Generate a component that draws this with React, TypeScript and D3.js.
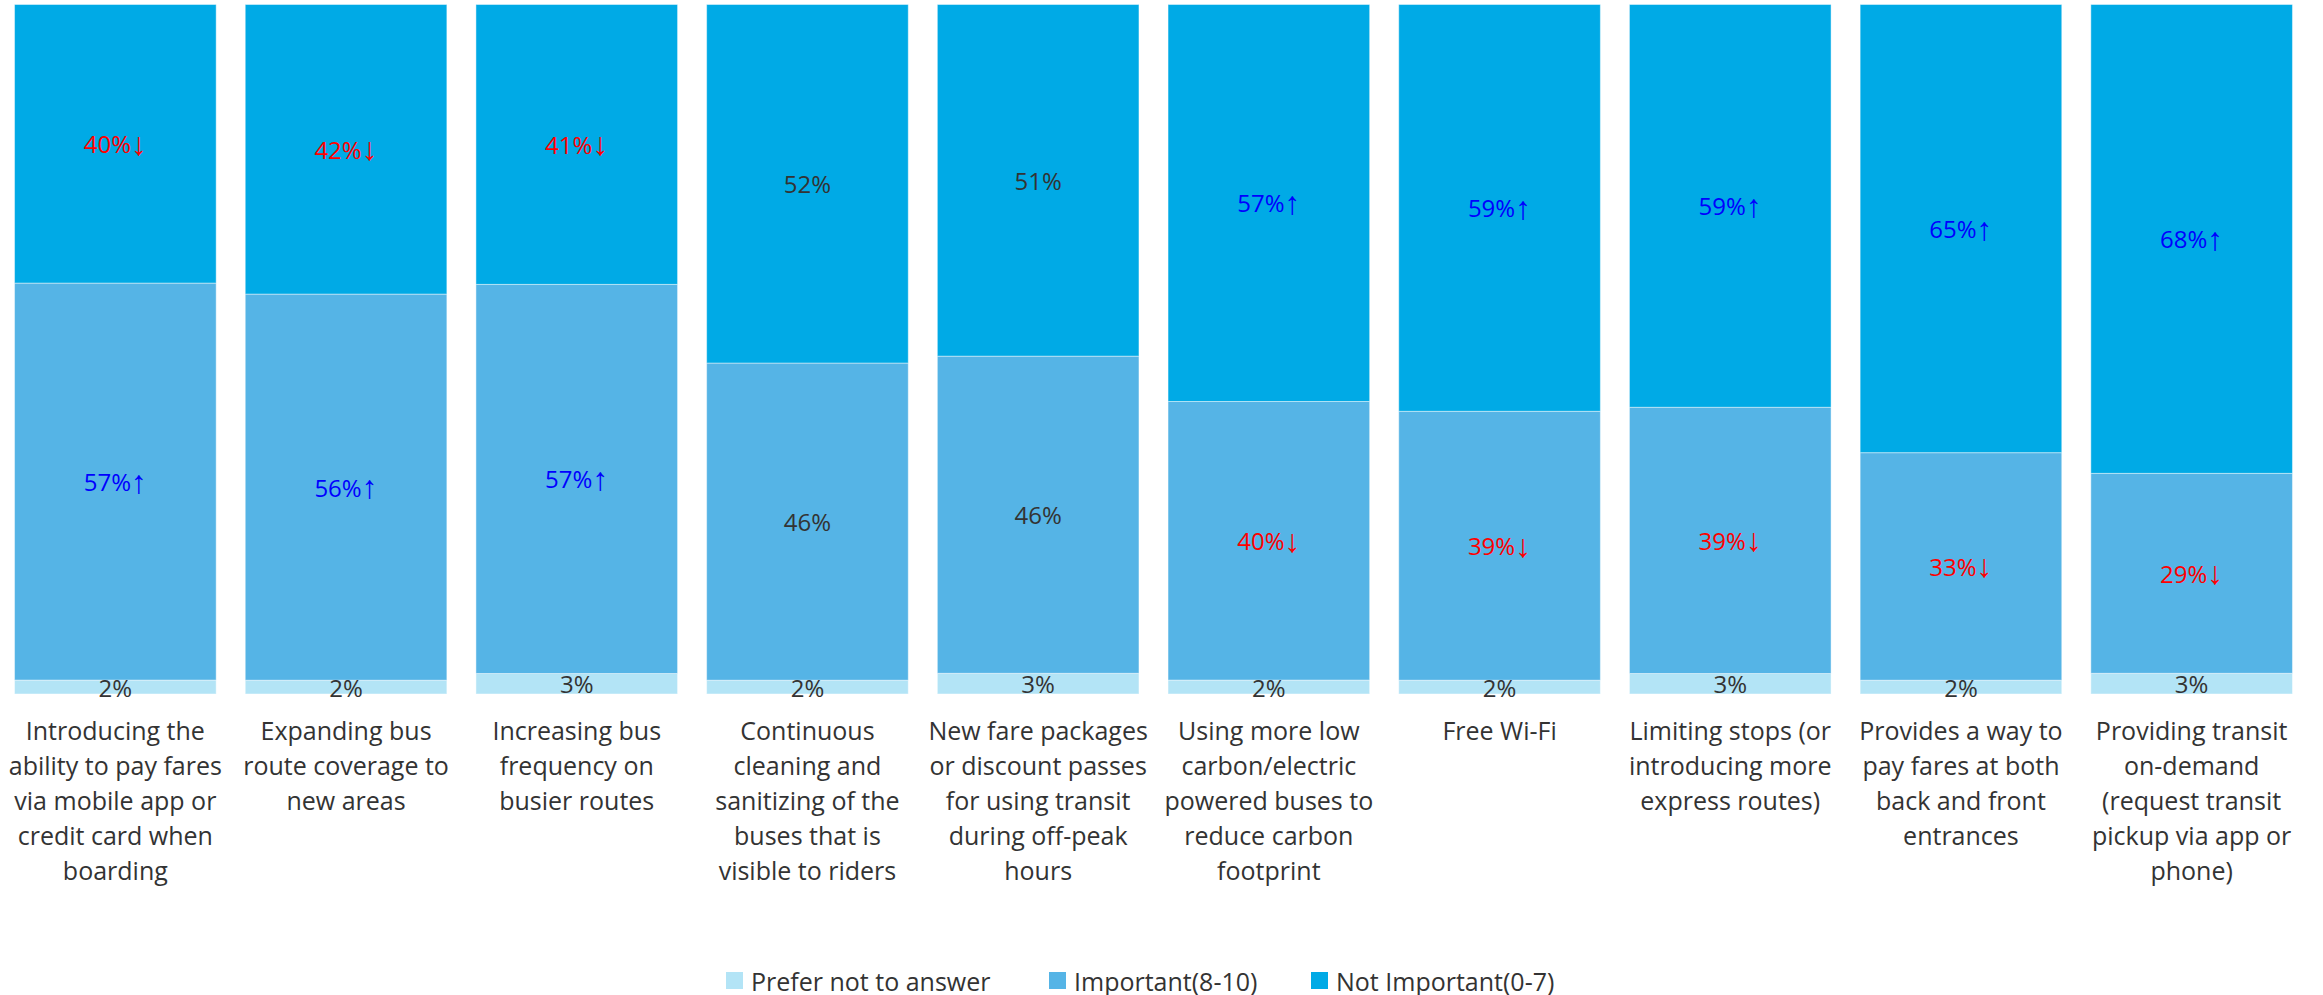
import React from 'react';
import * as d3 from 'd3';

// categories and their wrapped tick labels
const categories = [
  'Introducing the ability to pay fares via mobile app or credit card when boarding',
  'Expanding bus route coverage to new areas',
  'Increasing bus frequency on busier routes',
  'Continuous cleaning and sanitizing of the buses that is visible to riders',
  'New fare packages or discount passes for using transit during off-peak hours',
  'Using more low carbon/electric powered buses to reduce carbon footprint',
  'Free Wi-Fi',
  'Limiting stops (or introducing more express routes)',
  'Provides a way to pay fares at both back and front entrances',
  'Providing transit on-demand (request transit pickup via app or phone)',
];

const categoryLines = [
  ['Introducing the', 'ability to pay fares', 'via mobile app or', 'credit card when', 'boarding'],
  ['Expanding bus', 'route coverage to', 'new areas'],
  ['Increasing bus', 'frequency on', 'busier routes'],
  ['Continuous', 'cleaning and', 'sanitizing of the', 'buses that is', 'visible to riders'],
  ['New fare packages', 'or discount passes', 'for using transit', 'during off-peak', 'hours'],
  ['Using more low', 'carbon/electric', 'powered buses to', 'reduce carbon', 'footprint'],
  ['Free Wi-Fi'],
  ['Limiting stops (or', 'introducing more', 'express routes)'],
  ['Provides a way to', 'pay fares at both', 'back and front', 'entrances'],
  ['Providing transit', 'on-demand', '(request transit', 'pickup via app or', 'phone)'],
];

const seriesNames = ['Prefer not to answer', 'Important(8-10)', 'Not Important(0-7)'];
const seriesColors = ['#B3E4F6', '#55B4E6', '#00AAE6'];

const preferNot = [2, 2, 3, 2, 3, 2, 2, 3, 2, 3];
const important = [57, 56, 57, 46, 46, 40, 39, 39, 33, 29];
const notImportant = [40, 42, 41, 52, 51, 57, 59, 59, 65, 68];

// significance markers shown next to the labels
const preferTrend = ['', '', '', '', '', '', '', '', '', ''];
const importantTrend = ['up', 'up', 'up', '', '', 'down', 'down', 'down', 'down', 'down'];
const notImportantTrend = ['down', 'down', 'down', '', '', 'up', 'up', 'up', 'up', 'up'];

const W = 2323;
const H = 995;
const FONT = '"Open Sans", "DejaVu Sans", sans-serif';

const keys = ['prefer', 'important', 'notImportant'];
const trends = [preferTrend, importantTrend, notImportantTrend];

const App: React.FC = () => {
  const rows = categories.map((c, i) => ({
    category: c,
    prefer: preferNot[i],
    important: important[i],
    notImportant: notImportant[i],
  }));

  const stacked = d3.stack<any>().keys(keys).offset(d3.stackOffsetExpand)(rows);

  const x = d3.scaleBand<string>()
    .domain(categories)
    .range([0, 2307])
    .paddingInner(0.126)
    .paddingOuter(0.063);

  const y = d3.scaleLinear().domain([0, 1]).range([694, 4.5]);

  const arrow = (t: string) => (t === 'up' ? '↑' : t === 'down' ? '↓' : '');
  const labelColor = (t: string) => (t === 'up' ? '#0000FF' : t === 'down' ? '#FF0000' : '#333333');

  const legendX = [726, 1049, 1311];

  return (
    <svg width={W} height={H} style={{ position: 'absolute', left: 0, top: 0, display: 'block', background: '#fff' }}
      fontFamily={FONT}>
      {stacked.map((layer, si) => (
        <g key={layer.key}>
          {layer.map((d, i) => (
            <rect key={i}
              x={x(categories[i])!}
              y={y(d[1])}
              width={x.bandwidth()}
              height={y(d[0]) - y(d[1])}
              fill={seriesColors[si]}
              stroke="rgba(255,255,255,0.45)"
              strokeWidth={1} />
          ))}
        </g>
      ))}

      {stacked.map((layer, si) => (
        <g key={'lab' + layer.key}>
          {layer.map((d, i) => {
            const raw = (d.data as any)[keys[si]] as number;
            const t = trends[si][i];
            return (
              <text key={i}
                x={x(categories[i])! + x.bandwidth() / 2}
                y={(y(d[0]) + y(d[1])) / 2}
                textAnchor="middle"
                dominantBaseline="central"
                fontSize={24}
                fill={labelColor(t)}>
                {raw + '%'}
                {t && <tspan fontFamily='"Liberation Sans", "DejaVu Sans", sans-serif' fontSize={32}>{arrow(t)}</tspan>}
              </text>
            );
          })}
        </g>
      ))}

      <g>
        {categoryLines.map((lines, i) => (
          <text key={i} x={x(categories[i])! + x.bandwidth() / 2} y={740}
            textAnchor="middle" fontSize={25} fill="#333333">
            {lines.map((ln, j) => (
              <tspan key={j} x={x(categories[i])! + x.bandwidth() / 2} dy={j === 0 ? 0 : 35}>{ln}</tspan>
            ))}
          </text>
        ))}
      </g>

      <g>
        {seriesNames.map((name, i) => (
          <g key={name} transform={`translate(${legendX[i]},0)`}>
            <rect x={0} y={972} width={17} height={17} fill={seriesColors[i]} />
            <text x={25} y={981} dominantBaseline="central" fontSize={25} fill="#333333">{name}</text>
          </g>
        ))}
      </g>
    </svg>
  );
};

export default App;
